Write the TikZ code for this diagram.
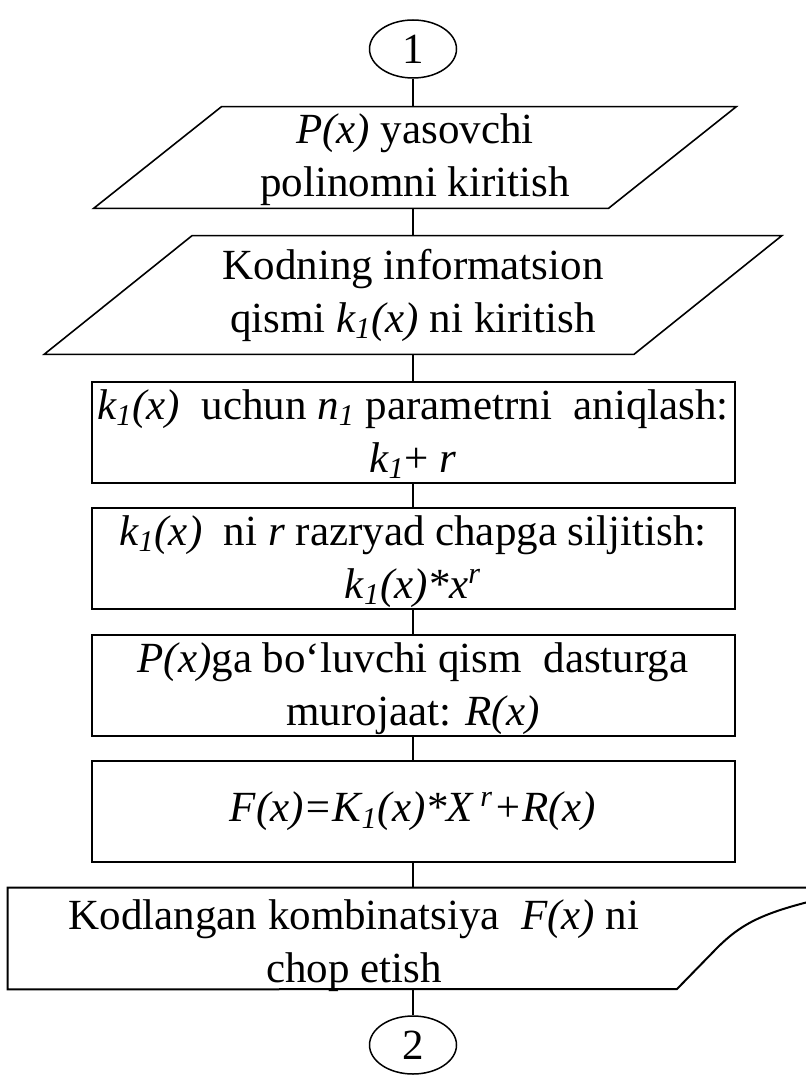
\documentclass[tikz,border=0pt]{standalone}
\usepackage{fontspec}
\setmainfont{Liberation Serif}
\usetikzlibrary{shapes.geometric}

% keeps the last line's baseline at the same height in every box
\newcommand{\lowstrut}{\rule[-4.7pt]{0pt}{4.7pt}}

\begin{document}
\begin{tikzpicture}[x=0.5pt, y=-0.5pt,
            font=\fontsize{21.5pt}{26.5pt}\selectfont,
            conn/.style={ellipse, draw, line width=0.75pt, minimum width=43.5pt, minimum height=29pt, inner sep=0},
            io/.style={rectangle, inner sep=0},
            blk/.style={rectangle, draw, line width=1pt, minimum width=321.5pt, minimum height=50.5pt, inner sep=1pt},
            lowlab/.style={anchor=south, align=center, inner sep=1pt},
            ln/.style={line width=0.75pt}]
            \useasboundingbox (0,0) rectangle (806,1075);
            % start connector
            \node[conn] (c1) at (413, 49) {1};
            % inputs (parallelograms drawn round the nodes)
            \node[io, minimum width=257pt, minimum height=50.5pt,
                label={[lowlab, name=in1txt]south:{\textit{P(x)} yasovchi\\polinomni kiritish\lowstrut}}]
                (in1) at (415, 157.5) {};
            \draw[line width=0.8pt] ([xshift=32pt]in1.north west) -- ([xshift=32pt]in1.north east)
                -- ([xshift=-32pt]in1.south east) -- ([xshift=-32pt]in1.south west) -- cycle;
            \node[io, align=center, minimum width=294.5pt, minimum height=59pt] (in2) at (413, 295)
                {Kodning informatsion\\qismi \textit{k\textsubscript{1}(x)} ni kiritish};
            \draw[line width=0.8pt] ([xshift=37pt]in2.north west) -- ([xshift=37pt]in2.north east)
                -- ([xshift=-37pt]in2.south east) -- ([xshift=-37pt]in2.south west) -- cycle;
            % processing steps
            \node[blk, label={[lowlab, name=r1txt]south:{\textit{k\textsubscript{1}(x)}\ \ uchun \textit{n\textsubscript{1}} parametrni\ \ aniqlash:\\\textit{k\textsubscript{1}}+ \textit{r}\lowstrut}}]
                (r1) at (413, 432.5) {};
            \node[blk, label={[lowlab, name=r2txt]south:{\textit{k\textsubscript{1}(x)}\ \ ni \textit{r} razryad chapga siljitish:\\\textit{k\textsubscript{1}(x)*x\textsuperscript{r}}\lowstrut}}]
                (r2) at (413, 558.5) {};
            \node[blk, label={[lowlab, name=r3txt]south:{\textit{P(x)}ga bo‘luvchi qism\ \ dasturga\\murojaat: \textit{R(x)}\lowstrut}}]
                (r3) at (413, 685.5) {};
            \node[blk] (r4) at (413, 811.5)
                {\textit{F(x)=K\textsubscript{1}(x)*X\,\textsuperscript{r}+R(x)}};
            % output document
            \node[rectangle, minimum width=402pt, minimum height=50.5pt, inner sep=0] (out) at (410, 938.5) {};
            \draw[line width=1pt] (out.north west) -- (out.north east) -- (812, 901)
                .. controls (760, 914) and (740, 925) .. (717, 948) -- (677, 989)
                -- (out.south west) -- cycle;
            \node[align=center, inner sep=0] (outtxt) at (354, 946)
                {Kodlangan kombinatsiya\ \ \textit{F(x)} ni\\chop etish};
            % end connector
            \node[conn] (c2) at (413, 1045) {2};
            % flow lines
            \draw[ln] (c1) -- (c1 |- in1.north);
            \draw[ln] (in1.south -| c1) -- (in2);
            \draw[ln] (in2) -- (r1);
            \draw[ln] (r1) -- (r2);
            \draw[ln] (r2) -- (r3);
            \draw[ln] (r3) -- (r4);
            \draw[ln] (r4) -- (r4 |- out.north);
            \draw[ln] (out.south -| c2) -- (c2);
        \end{tikzpicture}
\end{document}
